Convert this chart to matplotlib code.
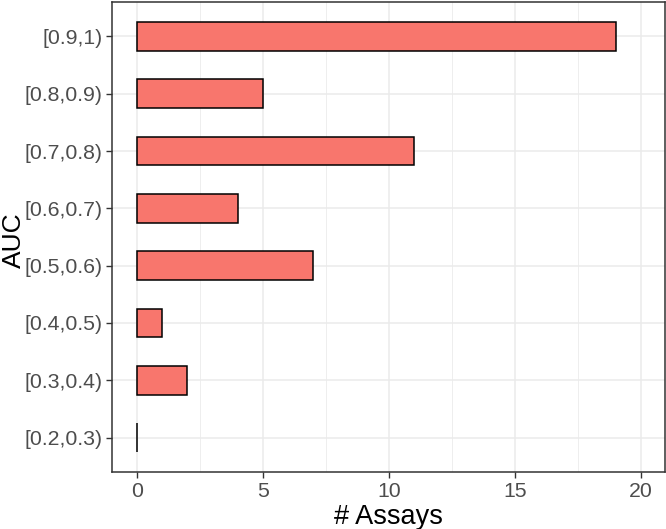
import matplotlib.pyplot as plt
import numpy as np

categories = ["[0.2,0.3)", "[0.3,0.4)", "[0.4,0.5)", "[0.5,0.6)",
              "[0.6,0.7)", "[0.7,0.8)", "[0.8,0.9)", "[0.9,1)"]
counts = [0, 2, 1, 7, 4, 11, 5, 19]

plt.rcParams['font.family'] = ['Liberation Sans', 'DejaVu Sans']

fig = plt.figure(figsize=(6.66, 5.29), dpi=100)
ax = fig.add_axes([112 / 666, 57 / 529, 553 / 666, 470 / 529])

y = np.arange(1, len(categories) + 1)
ax.barh(y, counts, height=0.5, color='#F8766D', edgecolor='black',
        linewidth=1.1, zorder=3)

ax.set_xlim(-0.98, 20.95)
ax.set_ylim(0.4, 8.6)
ax.set_yticks(y)
ax.set_yticklabels(categories)
ax.set_xticks([0, 5, 10, 15, 20])
ax.set_xticks([2.5, 7.5, 12.5, 17.5], minor=True)
ax.set_yticks([], minor=True)

ax.grid(True, which='major', color='#EBEBEB', linewidth=1.1, zorder=0)
ax.grid(True, which='minor', axis='x', color='#EBEBEB', linewidth=0.6, zorder=0)
ax.tick_params(which='major', length=4, width=1, color='#333333',
               labelcolor='#4D4D4D', labelsize=15.3, pad=3)
ax.tick_params(which='minor', length=0)
for s in ax.spines.values():
    s.set_color('#333333')
    s.set_linewidth(1.1)

ax.set_xlabel("# Assays", fontsize=19.5, color='black', labelpad=2)
fig.text(21 / 666, 1 - 240 / 529, "AUC", rotation=90, fontsize=19,
         ha='center', va='baseline', rotation_mode='anchor', color='black')

fig.savefig("out.png", dpi=100)
